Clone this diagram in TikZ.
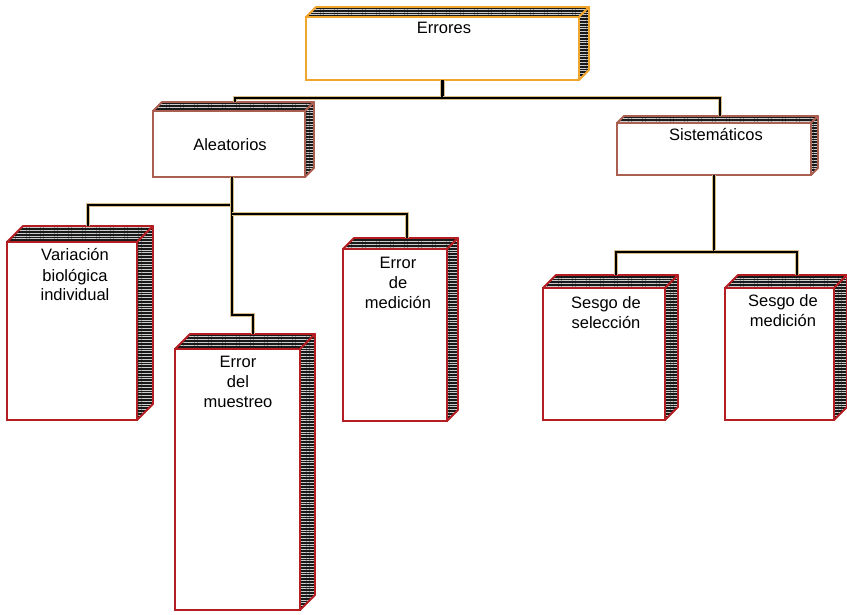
\documentclass[tikz,border=0pt]{standalone}
\usepackage{fontspec}
\setmainfont{Liberation Sans}
\usetikzlibrary{patterns.meta}
\definecolor{borange}{RGB}{240,165,45}
\definecolor{bbrown}{RGB}{170,95,80}
\definecolor{bred}{RGB}{180,30,35}
\definecolor{ctan}{RGB}{215,190,135}
\tikzset{
  face/.style={rectangle, fill=white, line width=2.4pt, inner sep=0pt, outer sep=0pt},
  tex/.style={line width=1.8pt, line join=round, preaction={fill=black!90},
    pattern={Lines[angle=0,distance=2.8pt,line width=0.8pt]}, pattern color=white!80!black},
  conn/.style={line width=2.4pt, black, line join=miter,
    preaction={draw=ctan, line width=4.2pt}},
  lbl/.style={align=center, inner sep=0pt, font=\fontsize{16.5}{20}\selectfont}
}
\newcommand{\cubebox}[7]{%
  \node[face, draw=#7, minimum width={(#4-#2)*1pt}, minimum height={(#5-#3)*1pt}] (#1) at ({(#2+#4)/2},{(#3+#5)/2}) {};
  \filldraw[tex, draw=#7] (#2,#3) -- (#2+#6,#3-#6) -- (#4+#6,#3-#6) -- (#4,#3) -- cycle;
  \filldraw[tex, draw=#7] (#4,#3) -- (#4+#6,#3-#6) -- (#4+#6,#5-#6) -- (#4,#5) -- cycle;
}
\begin{document}
\begin{tikzpicture}[x=1pt,y=-1pt]
\useasboundingbox[fill=white] (0,0) rectangle (847,614);
% boxes
\cubebox{err}{306}{17}{579}{80}{10}{borange}
\cubebox{ale}{153}{111}{305}{177}{9}{bbrown}
\cubebox{sis}{617}{123}{811}{175}{7}{bbrown}
\cubebox{var}{7}{242}{137}{420}{16}{bred}
\cubebox{mue}{175}{349}{300}{610}{15}{bred}
\cubebox{med}{343}{249}{447}{421}{11}{bred}
\cubebox{ssel}{543}{288}{665}{420}{13}{bred}
\cubebox{smed}{725}{288}{834}{420}{13}{bred}
% labels
\node[lbl] (err-l) at (444,28) {Errores};
\node[lbl] (ale-l) at (230,145) {Aleatorios};
\node[lbl] (sis-l) at (716,135) {Sistemáticos};
\node[lbl] (var-l) at (75,275) {Variación\\biológica\\individual};
\node[lbl] (mue-l) at (238,382) {Error\\del\\muestreo};
\node[lbl] (med-l) at (398,283) {Error\\de\\medición};
\node[lbl] (ssel-l) at (606,313) {Sesgo de\\selección};
\node[lbl] (smed-l) at (783,311) {Sesgo de\\medición};
% connector end points on the top faces
\coordinate (ale-top) at (235,102);
\coordinate (sis-top) at (720,116);
\coordinate (var-top) at (88,226);
\coordinate (mue-top) at (253,334);
\coordinate (med-top) at (407,238);
\coordinate (ssel-top) at (616,275);
\coordinate (smed-top) at (797,275);
% connectors
\draw[conn] (err.south) -- ++(0,18) coordinate (ej) -| (ale-top);
\draw[conn] (ej) -| (sis-top);
\draw[conn] ([xshift=3pt]ale.south) -- ++(0,28) coordinate (aj1) -| (var-top);
\draw[conn] ([xshift=3pt]ale.south) -- ++(0,138) -| (mue-top);
\draw[conn] ([xshift=3pt,yshift=-37pt]ale.south) coordinate (aj2) -| (med-top);
\draw[conn] (sis.south) -- ++(0,77) coordinate (sj) -| (ssel-top);
\draw[conn] (sj) -| (smed-top);
\end{tikzpicture}
\end{document}
